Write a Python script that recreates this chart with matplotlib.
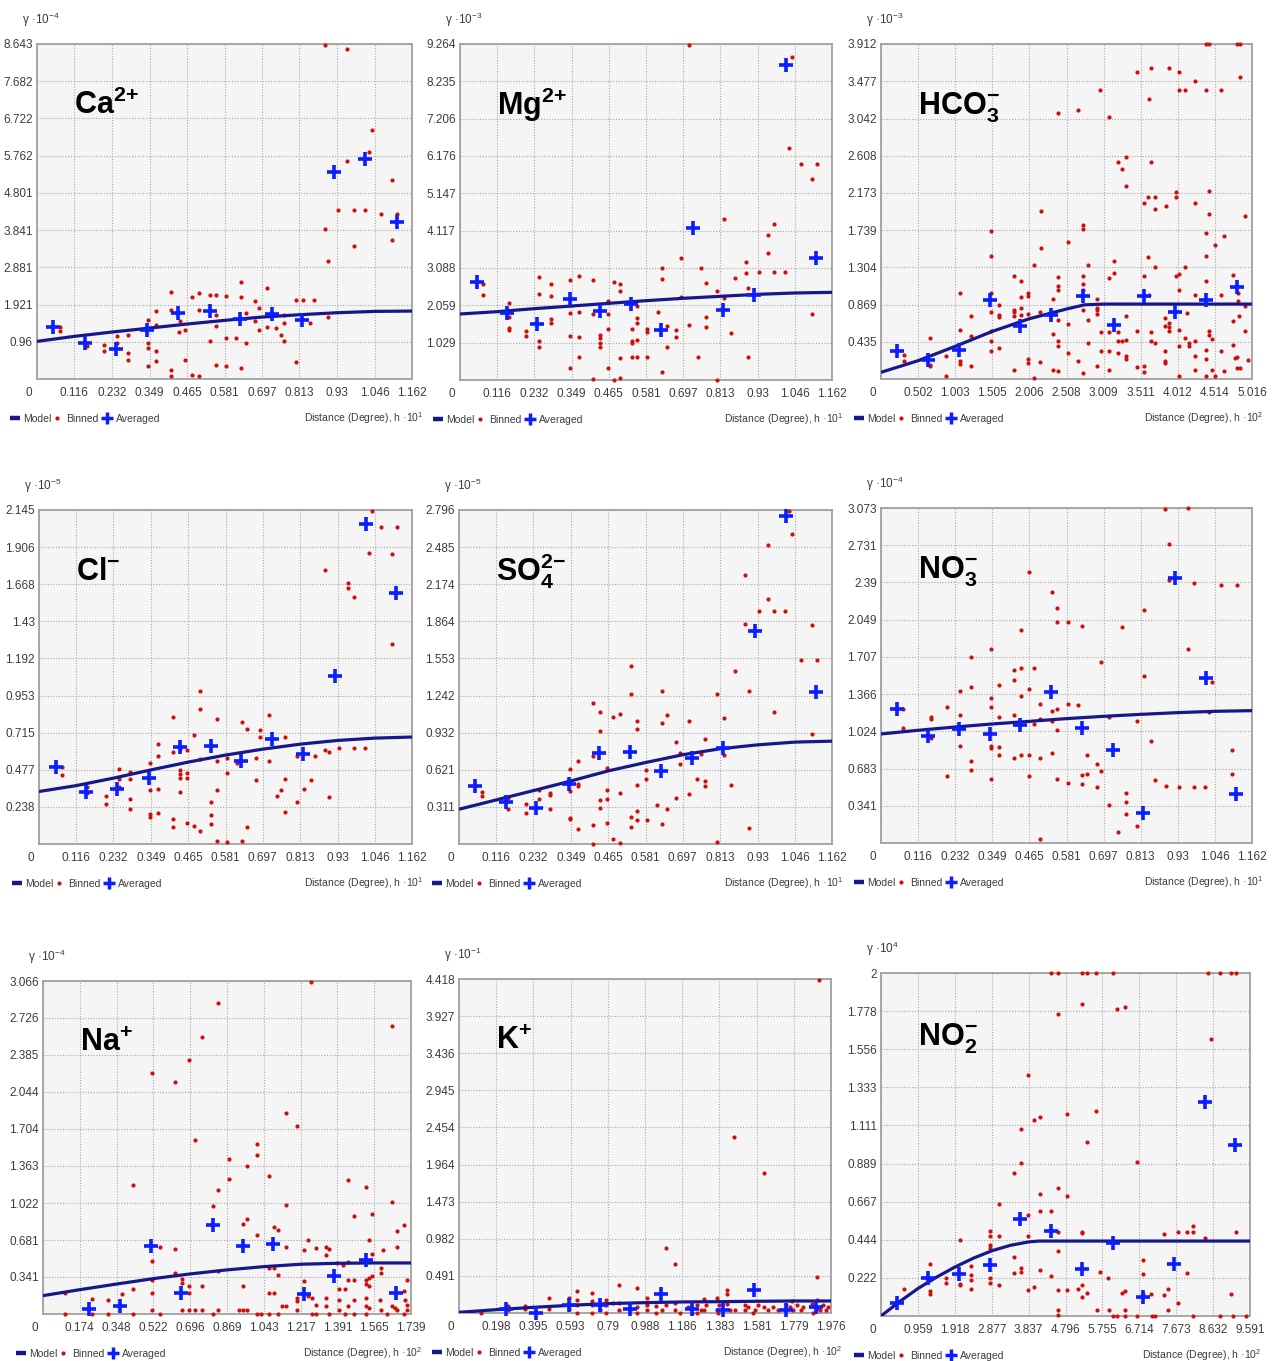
import matplotlib
matplotlib.use("Agg")
import matplotlib.pyplot as plt
from matplotlib import font_manager as fm
from matplotlib.lines import Line2D

W, H = 1276, 1361

installed = {f.name for f in fm.fontManager.ttflist}
NARROW = next((n for n in ["Liberation Sans Narrow", "DejaVu Sans Condensed", "Liberation Sans"]
               if n in installed), "DejaVu Sans")

plt.rcParams["font.family"] = [NARROW, "DejaVu Sans"]
plt.rcParams["mathtext.fontset"] = "custom"
plt.rcParams["mathtext.rm"] = NARROW
plt.rcParams["mathtext.it"] = NARROW + ":italic"
plt.rcParams["mathtext.bf"] = NARROW + ":bold"

NAVY = "#17178c"
RED = "#cc1010"
BLUE = "#0a1eff"
TXT = "#3c3c3c"
GRID = "#a8a8a8"
FACE = "#f5f5f5"
SPINE = "#a0a0a0"

# ---------------------------------------------------------------- tick labels
x_ticks_01 = ["0", "0.116", "0.232", "0.349", "0.465", "0.581", "0.697", "0.813", "0.93", "1.046", "1.162"]
x_ticks_hco3 = ["0", "0.502", "1.003", "1.505", "2.006", "2.508", "3.009", "3.511", "4.012", "4.514", "5.016"]
x_ticks_na = ["0", "0.174", "0.348", "0.522", "0.696", "0.869", "1.043", "1.217", "1.391", "1.565", "1.739"]
x_ticks_k = ["0", "0.198", "0.395", "0.593", "0.79", "0.988", "1.186", "1.383", "1.581", "1.779", "1.976"]
x_ticks_no2 = ["0", "0.959", "1.918", "2.877", "3.837", "4.796", "5.755", "6.714", "7.673", "8.632", "9.591"]

y_ticks_ca = ["0.96", "1.921", "2.881", "3.841", "4.801", "5.762", "6.722", "7.682", "8.643"]
y_ticks_mg = ["1.029", "2.059", "3.088", "4.117", "5.147", "6.176", "7.206", "8.235", "9.264"]
y_ticks_hco3 = ["0.435", "0.869", "1.304", "1.739", "2.173", "2.608", "3.042", "3.477", "3.912"]
y_ticks_cl = ["0.238", "0.477", "0.715", "0.953", "1.192", "1.43", "1.668", "1.906", "2.145"]
y_ticks_so4 = ["0.311", "0.621", "0.932", "1.242", "1.553", "1.864", "2.174", "2.485", "2.796"]
y_ticks_no3 = ["0.341", "0.683", "1.024", "1.366", "1.707", "2.049", "2.39", "2.731", "3.073"]
y_ticks_na = ["0.341", "0.681", "1.022", "1.363", "1.704", "2.044", "2.385", "2.726", "3.066"]
y_ticks_k = ["0.491", "0.982", "1.473", "1.964", "2.454", "2.945", "3.436", "3.927", "4.418"]
y_ticks_no2 = ["0.222", "0.444", "0.667", "0.889", "1.111", "1.333", "1.556", "1.778", "2"]

# ---------------------------------------------------------------- Ca2+
ca_binned = [(0.891, 8.617), (0.962, 8.505), (1.038, 6.426), (1.028, 5.868), (0.962, 5.627), (1.100, 5.137),
             (0.933, 4.364), (0.981, 4.364), (1.017, 4.364), (1.065, 4.253), (1.114, 4.253), (0.891, 3.866),
             (0.981, 3.419), (1.100, 3.591), (0.902, 3.033), (0.902, 1.589), (0.070, 1.332), (0.070, 1.229),
             (0.155, 0.842), (0.207, 0.885), (0.207, 0.713), (0.248, 1.100), (0.248, 0.928), (0.282, 1.143),
             (0.282, 0.670), (0.282, 0.498), (0.344, 1.529), (0.344, 0.928), (0.344, 0.799), (0.344, 0.326),
             (0.370, 1.761), (0.370, 1.400), (0.370, 0.713), (0.370, 0.455), (0.416, 2.242), (0.416, 1.787),
             (0.416, 0.241), (0.416, 0.069), (0.442, 1.486), (0.439, 1.203), (0.460, 1.271), (0.460, 0.481),
             (0.480, 2.105), (0.480, 0.112), (0.501, 2.216), (0.501, 1.787), (0.501, 0.086), (0.537, 2.174),
             (0.537, 0.971), (0.554, 2.174), (0.554, 1.658), (0.554, 1.375), (0.554, 0.352), (0.585, 2.148),
             (0.585, 1.057), (0.585, 0.326), (0.618, 1.057), (0.632, 2.500), (0.632, 2.105), (0.632, 0.284),
             (0.647, 1.701), (0.647, 0.928), (0.677, 2.002), (0.677, 1.486), (0.688, 1.830), (0.688, 1.271),
             (0.714, 2.354), (0.714, 1.332), (0.742, 1.314), (0.755, 1.143), (0.765, 1.658), (0.765, 1.443),
             (0.765, 0.988), (0.804, 2.045), (0.804, 0.430), (0.824, 2.045), (0.847, 1.443), (0.858, 2.045)]
ca_averaged = [(0.050, 1.332), (0.148, 0.928), (0.244, 0.773), (0.342, 1.271), (0.437, 1.701), (0.535, 1.761),
               (0.630, 1.546), (0.728, 1.675), (0.822, 1.512), (0.920, 5.335), (1.017, 5.679), (1.114, 4.038)]
ca_model = [(0, 0.971), (0.116, 1.100), (0.232, 1.211), (0.349, 1.314), (0.465, 1.418), (0.581, 1.512),
            (0.697, 1.598), (0.813, 1.658), (0.93, 1.710), (1.046, 1.744), (1.162, 1.753)]

# ---------------------------------------------------------------- Mg2+
mg_binned = [(0.715, 9.24), (1.038, 8.896), (1.027, 6.405), (1.064, 5.955), (1.115, 5.955), (1.100, 5.542),
             (0.824, 4.439), (0.981, 4.301), (0.962, 3.998), (0.962, 3.511), (0.689, 3.354), (0.893, 3.244),
             (0.754, 3.097), (0.631, 3.097), (0.933, 2.987), (0.981, 2.987), (1.016, 2.987), (0.893, 2.941),
             (0.631, 2.794), (0.247, 2.831), (0.371, 2.867), (0.343, 2.757), (0.416, 2.757), (0.481, 2.711),
             (0.499, 2.647), (0.499, 2.454), (0.283, 2.647), (0.071, 2.647), (0.071, 2.343), (0.247, 2.371),
             (0.283, 2.325), (0.767, 2.683), (0.858, 2.803), (0.900, 2.527), (0.803, 2.454), (0.824, 2.252),
             (0.689, 2.279), (0.154, 2.114), (0.154, 1.728), (0.154, 1.443), (0.154, 1.379), (0.206, 1.360),
             (0.206, 1.213), (0.247, 1.084), (0.247, 0.901), (0.283, 1.673), (0.283, 1.581), (0.343, 1.856),
             (0.343, 1.213), (0.343, 0.322), (0.371, 1.884), (0.371, 1.176), (0.371, 0.643), (0.416, 1.820),
             (0.416, 0.028), (0.437, 1.241), (0.437, 1.149), (0.437, 1.011), (0.437, 0.901), (0.461, 2.178),
             (0.461, 1.820), (0.461, 1.397), (0.461, 0.340), (0.481, 0.0), (0.499, 0.616), (0.499, 0.046),
             (0.536, 1.397), (0.536, 1.084), (0.536, 1.011), (0.536, 0.643), (0.553, 2.040), (0.553, 1.700),
             (0.553, 1.581), (0.553, 1.103), (0.553, 0.643), (0.585, 1.397), (0.585, 1.333), (0.585, 0.643),
             (0.617, 1.884), (0.631, 0.211), (0.647, 1.489), (0.647, 0.919), (0.676, 1.379), (0.676, 1.176),
             (0.715, 1.516), (0.742, 0.643), (0.767, 1.746), (0.767, 1.470), (0.803, 0.0), (0.848, 1.287),
             (0.900, 0.643), (1.100, 1.820)]
mg_averaged = [(0.052, 2.711), (0.148, 1.838), (0.242, 1.544), (0.343, 2.233), (0.437, 1.912), (0.534, 2.095),
               (0.629, 1.379), (0.728, 4.200), (0.822, 1.930), (0.919, 2.343), (1.017, 8.685), (1.113, 3.354)]
mg_model = [(0, 1.820), (0.116, 1.884), (0.232, 1.967), (0.349, 2.040), (0.465, 2.114), (0.581, 2.187),
            (0.697, 2.252), (0.813, 2.307), (0.93, 2.362), (1.046, 2.399), (1.162, 2.417)]

# ---------------------------------------------------------------- HCO3-
hco3_binned = [(4.399, 3.91), (4.439, 3.91), (4.813, 3.91), (4.850, 3.91), (3.461, 3.590), (3.655, 3.636),
               (3.890, 3.636), (4.025, 3.590), (4.241, 3.481), (4.850, 3.523), (4.034, 3.376), (4.106, 3.376),
               (4.394, 3.376), (4.602, 3.376), (2.966, 3.376), (3.619, 3.271), (2.389, 3.111), (2.664, 3.142),
               (3.087, 3.065), (3.313, 2.598), (3.204, 2.532), (3.259, 2.454), (3.655, 2.532), (3.313, 2.248),
               (3.561, 2.061), (3.606, 2.120), (3.709, 2.120), (3.709, 1.987), (3.853, 2.022), (3.989, 2.189),
               (3.989, 2.120), (4.241, 2.061), (4.439, 2.201), (4.439, 1.925), (4.926, 1.898), (2.163, 1.964),
               (2.731, 1.801), (2.731, 1.754), (2.524, 1.594), (1.487, 1.723), (4.633, 1.672), (4.394, 1.703),
               (4.512, 1.559), (2.163, 1.528), (1.487, 1.431), (4.394, 1.431), (3.146, 1.373), (3.709, 1.307),
               (2.794, 1.334), (2.073, 1.334), (3.606, 1.419), (4.106, 1.307), (3.087, 1.178), (3.146, 1.237),
               (3.561, 1.198), (3.989, 1.198), (4.025, 1.229), (4.755, 1.209), (1.794, 1.198), (1.893, 1.147),
               (2.389, 1.186), (2.389, 1.081), (2.389, 1.042), (2.727, 1.198), (2.727, 1.112), (2.727, 1.042),
               (4.394, 1.147), (1.073, 1.003), (1.487, 1.003), (1.983, 1.003), (1.983, 0.964), (1.893, 0.953),
               (2.321, 0.937), (2.921, 0.937), (2.921, 0.828), (4.241, 0.984), (4.602, 0.984), (4.025, 1.042),
               (4.822, 1.003), (4.822, 0.906), (3.619, 0.976), (4.926, 0.848), (4.845, 0.739), (4.755, 0.681),
               (4.926, 0.556), (1.591, 0.867), (1.591, 0.751), (1.591, 0.723), (1.487, 0.782), (1.487, 0.556),
               (1.487, 0.439), (1.487, 0.323), (1.794, 0.809), (1.794, 0.782), (1.794, 0.731), (1.893, 0.828),
               (1.893, 0.751), (1.983, 0.762), (2.154, 0.778), (2.321, 0.525), (2.389, 0.684), (2.389, 0.439),
               (2.389, 0.381), (2.524, 0.646), (2.524, 0.303), (2.727, 0.809), (2.794, 0.692), (2.794, 0.420),
               (2.921, 0.809), (2.921, 0.762), (2.975, 0.544), (2.975, 0.323), (3.087, 0.544), (3.087, 0.323),
               (3.087, 0.109), (3.204, 0.544), (3.204, 0.439), (3.204, 0.303), (3.259, 0.439), (3.313, 0.731),
               (3.313, 0.459), (3.313, 0.264), (3.313, 0.233), (3.461, 0.564), (3.461, 0.140), (3.561, 0.156),
               (3.561, 0.078), (3.655, 0.544), (3.655, 0.439), (3.709, 0.420), (3.844, 0.712), (3.844, 0.622),
               (3.890, 0.653), (3.890, 0.603), (3.890, 0.556), (3.844, 0.323), (3.844, 0.206), (3.844, 0.187),
               (4.025, 0.576), (4.025, 0.381), (4.025, 0.031), (4.106, 0.478), (4.137, 0.770), (4.160, 0.420),
               (4.160, 0.381), (4.241, 0.439), (4.241, 0.272), (4.241, 0.109), (4.394, 0.342), (4.394, 0.233),
               (4.394, 0.039), (4.439, 0.556), (4.439, 0.517), (4.475, 0.467), (4.475, 0.109), (4.512, 0.031),
               (4.633, 0.089), (4.602, 0.323), (4.755, 0.401), (4.791, 0.245), (4.813, 0.257), (4.813, 0.128),
               (4.850, 0.128), (4.958, 0.226), (0.306, 0.284), (0.306, 0.206), (0.667, 0.478), (0.667, 0.167),
               (0.667, 0.148), (0.883, 0.264), (0.883, 0.031), (1.073, 0.576), (1.073, 0.206), (1.073, 0.175),
               (1.217, 0.731), (1.217, 0.498), (1.217, 0.156), (1.591, 0.362), (1.794, 0.109), (1.983, 0.237),
               (1.983, 0.187), (2.073, 0.012), (2.154, 0.194), (2.321, 0.109), (2.389, 0.089), (2.664, 0.214),
               (2.727, 0.070), (2.921, 0.156)]
hco3_averaged = [(0.216, 0.323), (0.631, 0.218), (1.050, 0.342), (1.478, 0.926), (1.884, 0.614), (2.303, 0.751),
                 (2.727, 0.964), (3.146, 0.634), (3.552, 0.964), (3.980, 0.778), (4.399, 0.926), (4.813, 1.069)]
hco3_model = [(0, 0.078), (0.502, 0.214), (1.003, 0.381), (1.505, 0.556), (2.006, 0.704), (2.508, 0.817),
              (2.75, 0.866), (3.009, 0.875), (3.511, 0.875), (4.012, 0.875), (4.514, 0.875), (5.016, 0.875)]

# ---------------------------------------------------------------- Cl-
cl_binned = [(1.037, 2.14), (1.064, 2.038), (1.115, 2.038), (1.027, 1.870), (1.100, 1.864), (0.892, 1.757),
             (0.963, 1.677), (0.963, 1.645), (0.981, 1.585), (1.100, 1.287), (0.501, 0.980), (0.501, 0.867),
             (0.417, 0.815), (0.555, 0.802), (0.715, 0.826), (0.632, 0.781), (0.648, 0.738), (0.690, 0.729),
             (0.690, 0.684), (0.482, 0.701), (0.767, 0.684), (0.371, 0.644), (0.371, 0.562), (0.417, 0.590),
             (0.440, 0.609), (0.461, 0.605), (0.501, 0.545), (0.555, 0.530), (0.586, 0.551), (0.586, 0.459),
             (0.618, 0.519), (0.677, 0.551), (0.715, 0.536), (0.804, 0.562), (0.859, 0.562), (0.892, 0.605),
             (0.902, 0.594), (0.934, 0.616), (0.981, 0.616), (1.017, 0.616), (0.072, 0.493), (0.072, 0.440),
             (0.150, 0.369), (0.150, 0.326), (0.208, 0.311), (0.208, 0.257), (0.248, 0.483), (0.248, 0.418),
             (0.248, 0.363), (0.282, 0.465), (0.282, 0.416), (0.282, 0.287), (0.282, 0.223), (0.345, 0.519),
             (0.345, 0.347), (0.345, 0.191), (0.345, 0.176), (0.371, 0.354), (0.371, 0.197), (0.417, 0.161),
             (0.417, 0.107), (0.440, 0.476), (0.440, 0.448), (0.440, 0.427), (0.440, 0.337), (0.461, 0.455),
             (0.461, 0.427), (0.461, 0.133), (0.482, 0.116), (0.501, 0.084), (0.537, 0.272), (0.537, 0.187),
             (0.537, 0.127), (0.555, 0.347), (0.555, 0.019), (0.586, 0.011), (0.632, 0.019), (0.648, 0.112),
             (0.677, 0.412), (0.742, 0.309), (0.755, 0.347), (0.767, 0.416), (0.767, 0.204), (0.804, 0.272),
             (0.824, 0.354), (0.848, 0.408), (0.902, 0.300)]
cl_averaged = [(0.052, 0.493), (0.147, 0.337), (0.243, 0.354), (0.342, 0.423), (0.438, 0.622), (0.535, 0.631),
               (0.630, 0.536), (0.727, 0.674), (0.822, 0.577), (0.921, 1.077), (1.018, 2.053), (1.113, 1.609)]
cl_model = [(0, 0.337), (0.116, 0.375), (0.232, 0.423), (0.349, 0.476), (0.465, 0.526), (0.581, 0.571),
            (0.697, 0.609), (0.813, 0.641), (0.93, 0.665), (1.046, 0.680), (1.162, 0.687)]

# ---------------------------------------------------------------- SO4 2-
so4_binned = [(1.027, 2.79), (1.037, 2.592), (0.963, 2.500), (0.892, 2.248), (0.963, 2.055), (0.934, 1.954),
              (0.981, 1.954), (1.017, 1.954), (0.892, 1.845), (1.100, 1.837), (1.064, 1.543), (1.115, 1.543),
              (0.537, 1.487), (0.859, 1.451), (0.902, 1.283), (0.804, 1.258), (0.537, 1.258), (0.632, 1.278),
              (0.417, 1.180), (0.438, 1.102), (0.480, 1.062), (0.501, 1.088), (0.981, 1.102), (0.648, 1.076),
              (1.100, 0.920), (0.632, 1.012), (0.715, 1.032), (0.826, 1.054), (0.438, 0.942), (0.767, 0.881),
              (0.555, 1.032), (0.555, 0.962), (0.677, 0.850), (0.417, 0.738), (0.371, 0.696), (0.345, 0.629),
              (0.690, 0.761), (0.690, 0.668), (0.755, 0.752), (0.824, 0.747), (0.584, 0.621), (0.584, 0.542),
              (0.461, 0.635), (0.371, 0.500), (0.371, 0.487), (0.461, 0.453), (0.461, 0.375), (0.501, 0.425),
              (0.555, 0.495), (0.438, 0.369), (0.438, 0.305), (0.345, 0.445), (0.345, 0.221), (0.345, 0.207),
              (0.371, 0.123), (0.248, 0.453), (0.248, 0.375), (0.282, 0.431), (0.282, 0.411), (0.282, 0.291),
              (0.208, 0.333), (0.208, 0.263), (0.154, 0.389), (0.154, 0.291), (0.072, 0.439), (0.072, 0.403),
              (0.417, 0.159), (0.417, 0.0), (0.461, 0.179), (0.480, 0.039), (0.501, 0.011), (0.537, 0.224),
              (0.537, 0.145), (0.555, 0.280), (0.555, 0.201), (0.586, 0.201), (0.618, 0.327), (0.632, 0.165),
              (0.648, 0.291), (0.677, 0.383), (0.715, 0.417), (0.742, 0.542), (0.767, 0.528), (0.767, 0.487),
              (0.848, 0.495), (0.804, 0.020), (0.902, 0.131)]
so4_averaged = [(0.049, 0.489), (0.145, 0.350), (0.241, 0.305), (0.342, 0.500), (0.436, 0.761), (0.534, 0.769),
                (0.630, 0.612), (0.727, 0.719), (0.822, 0.802), (0.921, 1.781), (1.018, 2.746), (1.113, 1.269)]
so4_model = [(0, 0.291), (0.116, 0.369), (0.232, 0.447), (0.349, 0.528), (0.465, 0.612), (0.581, 0.682),
             (0.697, 0.747), (0.813, 0.797), (0.93, 0.830), (1.046, 0.853), (1.162, 0.861)]

# ---------------------------------------------------------------- NO3-
no3_binned = [(0.891, 3.064), (0.962, 3.073), (0.902, 2.743), (0.902, 2.416), (0.981, 2.385), (1.064, 2.370),
              (1.115, 2.370), (0.462, 2.483), (0.537, 2.303), (0.552, 2.156), (0.552, 2.027), (0.585, 2.027),
              (0.823, 2.141), (0.631, 1.994), (0.754, 1.982), (0.438, 1.957), (0.962, 1.780), (0.688, 1.657),
              (0.281, 1.703), (0.344, 1.783), (0.415, 1.590), (0.438, 1.605), (0.479, 1.605), (0.415, 1.492),
              (0.823, 1.529), (1.038, 1.477), (0.248, 1.391), (0.281, 1.431), (0.370, 1.453), (0.344, 1.330),
              (0.438, 1.346), (0.462, 1.416), (0.498, 1.278), (0.585, 1.278), (0.616, 1.269), (0.537, 1.214),
              (0.552, 1.229), (0.206, 1.245), (0.068, 1.229), (0.156, 1.156), (0.156, 1.141), (0.248, 1.171),
              (0.344, 1.245), (0.370, 1.156), (0.415, 1.171), (0.498, 1.141), (0.480, 1.092), (0.537, 1.122),
              (0.714, 1.153), (1.027, 1.202), (0.802, 1.116), (0.552, 1.040), (0.068, 1.055), (0.156, 0.963),
              (0.248, 0.887), (0.344, 0.887), (0.344, 0.872), (0.370, 0.878), (0.370, 0.804), (0.415, 0.780),
              (0.438, 0.804), (0.462, 0.804), (0.498, 0.780), (0.537, 0.826), (0.646, 0.804), (0.845, 0.939),
              (1.100, 0.850), (0.281, 0.749), (0.281, 0.667), (0.206, 0.612), (0.344, 0.590), (0.462, 0.612),
              (0.552, 0.590), (0.585, 0.550), (0.631, 0.627), (0.646, 0.636), (0.631, 0.541), (0.675, 0.728),
              (0.688, 0.657), (0.675, 0.514), (0.858, 0.581), (0.892, 0.526), (0.933, 0.514), (0.981, 0.514),
              (1.016, 0.514), (1.100, 0.636), (0.714, 0.352), (0.741, 0.101), (0.766, 0.459), (0.766, 0.376),
              (0.766, 0.266), (0.802, 0.153), (0.498, 0.040)]
no3_averaged = [(0.050, 1.229), (0.146, 0.979), (0.243, 1.046), (0.342, 1.003), (0.436, 1.086), (0.533, 1.382),
                (0.631, 1.055), (0.727, 0.850), (0.821, 0.275), (0.920, 2.431), (1.017, 1.514), (1.113, 0.453)]
no3_model = [(0, 1.000), (0.116, 1.034), (0.232, 1.064), (0.349, 1.092), (0.465, 1.116), (0.581, 1.141),
             (0.697, 1.162), (0.813, 1.180), (0.93, 1.196), (1.046, 1.208), (1.162, 1.214)]

# ---------------------------------------------------------------- Na+
na_binned = [(1.267, 3.06), (0.829, 2.866), (1.648, 2.651), (0.749, 2.553), (0.515, 2.215), (0.691, 2.338),
             (0.625, 2.138), (1.147, 1.852), (1.202, 1.730), (0.719, 1.601), (1.010, 1.567), (1.010, 1.462),
             (0.877, 1.429), (0.966, 1.367), (0.877, 1.244), (1.070, 1.269), (1.440, 1.232), (1.525, 1.167),
             (0.423, 1.192), (0.829, 1.146), (1.147, 1.008), (1.648, 1.029), (0.803, 0.992), (1.470, 0.906),
             (1.553, 0.922), (0.966, 0.879), (0.947, 0.829), (1.708, 0.817), (1.010, 0.731), (1.092, 0.799),
             (1.110, 0.777), (1.671, 0.768), (0.515, 0.492), (0.554, 0.617), (0.625, 0.602), (1.147, 0.617),
             (1.254, 0.679), (1.289, 0.608), (1.235, 0.593), (1.336, 0.617), (1.352, 0.602), (1.541, 0.679),
             (1.605, 0.593), (1.671, 0.617), (1.556, 0.556), (1.336, 0.547), (1.388, 0.470), (1.443, 0.479),
             (1.420, 0.455), (1.471, 0.316), (1.525, 0.316), (1.541, 0.332), (1.556, 0.347), (1.525, 0.280),
             (1.541, 0.255), (1.597, 0.424), (1.597, 0.378), (1.070, 0.424), (1.092, 0.424), (1.110, 0.356),
             (0.829, 0.393), (0.625, 0.378), (0.515, 0.316), (0.515, 0.194), (0.656, 0.323), (0.656, 0.286),
             (0.691, 0.255), (0.691, 0.194), (0.749, 0.255), (0.947, 0.255), (0.423, 0.230), (0.373, 0.187),
             (0.105, 0.194), (0.231, 0.138), (0.308, 0.132), (1.070, 0.194), (1.092, 0.194), (1.235, 0.301),
             (1.202, 0.147), (1.202, 0.117), (1.254, 0.163), (1.270, 0.147), (1.289, 0.086), (1.336, 0.147),
             (1.399, 0.233), (1.399, 0.126), (1.427, 0.233), (1.443, 0.316), (1.470, 0.132), (1.525, 0.147),
             (1.525, 0.071), (1.541, 0.055), (1.593, 0.132), (1.651, 0.071), (1.664, 0.055), (1.671, 0.040),
             (1.708, 0.209), (1.711, 0.132), (1.719, 0.316), (1.719, 0.086), (0.105, 0.0), (0.231, 0.0),
             (0.308, 0.0), (0.423, 0.0), (0.515, 0.040), (0.554, 0.0), (0.656, 0.040), (0.691, 0.040),
             (0.719, 0.040), (0.749, 0.040), (0.803, 0.0), (0.829, 0.040), (0.924, 0.040), (0.947, 0.040),
             (0.966, 0.040), (1.010, 0.0), (1.029, 0.0), (1.070, 0.0), (1.110, 0.0), (1.128, 0.071),
             (1.147, 0.071), (1.202, 0.040), (1.270, 0.0), (1.289, 0.0), (1.336, 0.071), (1.352, 0.0),
             (1.399, 0.040), (1.427, 0.0), (1.443, 0.071), (1.470, 0.0), (1.525, 0.0), (1.597, 0.040),
             (1.624, 0.0), (1.708, 0.0), (1.722, 0.040)]
na_averaged = [(0.216, 0.046), (0.362, 0.077), (0.511, 0.630), (0.653, 0.194), (0.801, 0.817), (0.944, 0.630),
               (1.089, 0.645), (1.234, 0.184), (1.377, 0.353), (1.527, 0.501), (1.668, 0.194)]
na_model = [(0, 0.169), (0.174, 0.224), (0.348, 0.276), (0.522, 0.326), (0.696, 0.369), (0.869, 0.406),
            (1.043, 0.436), (1.217, 0.458), (1.391, 0.467), (1.565, 0.470), (1.739, 0.470)]

# ---------------------------------------------------------------- K+
k_binned = [(1.912, 4.41), (1.462, 2.333), (1.622, 1.847), (1.099, 0.862), (1.150, 0.645), (1.900, 0.477),
            (0.851, 0.376), (0.943, 0.336), (1.425, 0.309), (0.629, 0.287), (0.707, 0.265), (1.425, 0.256),
            (0.478, 0.199), (0.629, 0.177), (0.707, 0.155), (0.783, 0.177), (0.819, 0.133), (0.996, 0.199),
            (1.303, 0.190), (1.368, 0.199), (1.900, 0.177), (1.770, 0.155), (0.115, 0.004), (0.261, 0.093),
            (0.261, 0.035), (0.349, 0.093), (0.349, 0.049), (0.411, 0.0), (0.478, 0.049), (0.585, 0.199),
            (0.585, 0.102), (0.585, 0.049), (0.629, 0.102), (0.629, 0.004), (0.707, 0.102), (0.707, 0.004),
            (0.748, 0.102), (0.748, 0.035), (0.783, 0.102), (0.783, 0.0), (0.851, 0.133), (0.851, 0.035),
            (0.907, 0.035), (0.943, 0.080), (0.943, 0.0), (0.996, 0.102), (0.996, 0.035), (1.049, 0.088),
            (1.049, 0.0), (1.076, 0.035), (1.099, 0.102), (1.150, 0.133), (1.150, 0.035), (1.173, 0.0),
            (1.214, 0.080), (1.235, 0.0), (1.262, 0.102), (1.285, 0.035), (1.303, 0.035), (1.311, 0.102),
            (1.368, 0.035), (1.382, 0.102), (1.425, 0.124), (1.439, 0.035), (1.466, 0.035), (1.519, 0.102),
            (1.519, 0.035), (1.536, 0.080), (1.572, 0.035), (1.590, 0.102), (1.622, 0.080), (1.643, 0.035),
            (1.669, 0.080), (1.696, 0.035), (1.737, 0.102), (1.758, 0.080), (1.776, 0.035), (1.793, 0.102),
            (1.816, 0.035), (1.829, 0.080), (1.873, 0.124), (1.900, 0.057), (1.917, 0.035), (1.935, 0.102),
            (1.949, 0.035), (1.962, 0.080), (1.882, 0.0), (1.563, 0.0), (1.377, 0.0), (1.262, 0.0)]
k_averaged = [(0.248, 0.057), (0.411, 0.004), (0.583, 0.102), (0.748, 0.102), (0.907, 0.057), (1.072, 0.256),
              (1.239, 0.049), (1.404, 0.035), (1.568, 0.300), (1.735, 0.035), (1.896, 0.080)]
k_model = [(0, 0.009), (0.198, 0.044), (0.395, 0.075), (0.593, 0.102), (0.79, 0.124), (0.988, 0.137),
           (1.186, 0.146), (1.383, 0.150), (1.581, 0.155), (1.779, 0.159), (1.976, 0.159)]

# ---------------------------------------------------------------- NO2-
no2_binned = [(4.423, 2.0), (4.588, 2.0), (5.237, 2.0), (5.367, 2.0), (5.592, 2.0), (6.042, 2.0), (8.509, 2.0),
              (8.812, 2.0), (9.089, 2.0), (9.227, 2.0), (5.237, 1.819), (4.588, 1.760), (6.128, 1.789),
              (6.345, 1.799), (8.578, 1.614), (3.817, 1.405), (5.592, 1.198), (4.847, 1.179), (3.982, 1.141),
              (4.138, 1.159), (3.636, 1.093), (5.367, 1.013), (3.636, 0.892), (6.648, 0.898), (3.445, 0.833),
              (4.588, 0.745), (4.138, 0.712), (4.847, 0.702), (3.073, 0.654), (3.817, 0.589), (4.138, 0.615),
              (4.423, 0.615), (2.839, 0.498), (2.839, 0.468), (2.839, 0.414), (2.839, 0.394), (3.073, 0.468),
              (3.817, 0.468), (4.423, 0.498), (4.588, 0.492), (5.237, 0.492), (5.237, 0.482), (9.227, 0.492),
              (7.366, 0.478), (7.712, 0.492), (7.946, 0.492), (8.119, 0.525), (8.119, 0.492), (8.422, 0.453),
              (2.060, 0.443), (3.445, 0.345), (3.636, 0.277), (3.636, 0.258), (3.982, 0.170), (4.138, 0.267),
              (3.445, 0.248), (2.839, 0.219), (2.839, 0.195), (2.337, 0.291), (2.337, 0.238), (2.337, 0.209),
              (2.337, 0.160), (1.697, 0.222), (1.697, 0.193), (2.060, 0.189), (2.060, 0.180), (1.281, 0.306),
              (1.281, 0.146), (1.281, 0.131), (0.589, 0.160), (3.073, 0.180), (3.817, 0.150), (4.423, 0.234),
              (4.588, 0.379), (4.588, 0.150), (4.588, 0.033), (4.588, 0.004), (4.847, 0.150), (5.116, 0.160),
              (5.237, 0.180), (5.237, 0.111), (5.367, 0.135), (5.696, 0.258), (5.912, 0.224), (5.929, 0.033),
              (5.609, 0.033), (6.258, 0.135), (6.345, 0.146), (6.648, 0.0), (6.821, 0.326), (6.821, 0.242),
              (6.821, 0.131), (7.020, 0.127), (7.037, 0.0), (7.124, 0.0), (7.366, 0.121), (7.470, 0.160),
              (7.470, 0.033), (7.712, 0.078), (7.946, 0.252), (8.119, 0.0), (9.089, 0.131), (8.812, 0.0),
              (9.158, 0.0), (9.487, 0.0), (6.042, 0.0), (6.128, 0.0), (6.345, 0.0), (6.345, 0.033)]
no2_averaged = [(0.424, 0.076), (1.220, 0.219), (2.017, 0.242), (2.839, 0.300), (3.618, 0.564), (4.423, 0.496),
                (5.220, 0.273), (6.025, 0.427), (6.804, 0.111), (7.626, 0.306), (8.422, 1.249), (9.201, 0.995)]
no2_model = [(0, 0.0), (0.48, 0.083), (0.959, 0.160), (1.44, 0.226), (1.918, 0.285), (2.4, 0.337),
             (2.877, 0.380), (3.36, 0.412), (3.837, 0.432), (4.1, 0.437), (4.796, 0.437), (9.591, 0.437)]

# ---------------------------------------------------------------- panel layout (pixels: left, top, right, bottom)
panels = [
    dict(box=(37, 44, 412, 379), ion=r"$\mathbf{Ca^{{2}{+}}}$", yexp="-4", xexp="1",
         xt=x_ticks_01, yt=y_ticks_ca, binned=ca_binned, avg=ca_averaged, model=ca_model),
    dict(box=(460, 44, 832, 380), ion=r"$\mathbf{Mg^{{2}{+}}}$", yexp="-3", xexp="1",
         xt=x_ticks_01, yt=y_ticks_mg, binned=mg_binned, avg=mg_averaged, model=mg_model),
    dict(box=(881, 44, 1252, 379), ion=r"$\mathbf{HCO_3^{{-}}}$", yexp="-3", xexp="2",
         xt=x_ticks_hco3, yt=y_ticks_hco3, binned=hco3_binned, avg=hco3_averaged, model=hco3_model),
    dict(box=(39, 510, 412, 844), ion=r"$\mathbf{Cl^{{-}}}$", yexp="-5", xexp="1",
         xt=x_ticks_01, yt=y_ticks_cl, binned=cl_binned, avg=cl_averaged, model=cl_model),
    dict(box=(459, 510, 832, 844), ion=r"$\mathbf{SO_4^{{2}{-}}}$", yexp="-5", xexp="1",
         xt=x_ticks_01, yt=y_ticks_so4, binned=so4_binned, avg=so4_averaged, model=so4_model),
    dict(box=(881, 508, 1252, 843), ion=r"$\mathbf{NO_3^{{-}}}$", yexp="-4", xexp="1",
         xt=x_ticks_01, yt=y_ticks_no3, binned=no3_binned, avg=no3_averaged, model=no3_model),
    dict(box=(43, 981, 411, 1314), ion=r"$\mathbf{Na^{{+}}}$", yexp="-4", xexp="2",
         xt=x_ticks_na, yt=y_ticks_na, binned=na_binned, avg=na_averaged, model=na_model),
    dict(box=(459, 979, 831, 1313), ion=r"$\mathbf{K^{{+}}}$", yexp="-1", xexp="2",
         xt=x_ticks_k, yt=y_ticks_k, binned=k_binned, avg=k_averaged, model=k_model),
    dict(box=(881, 973, 1250, 1316), ion=r"$\mathbf{NO_2^{{-}}}$", yexp="4", xexp="2",
         xt=x_ticks_no2, yt=y_ticks_no2, binned=no2_binned, avg=no2_averaged, model=no2_model),
]


def fx(x):
    return x / W


def fy(y):
    return 1 - y / H


fig = plt.figure(figsize=(W / 100, H / 100), dpi=100)
fig.patch.set_facecolor("white")

for p in panels:
    l, t, r, b = p["box"]
    ax = fig.add_axes([fx(l), fy(b), (r - l) / W, (b - t) / H])
    ax.set_facecolor(FACE)

    xt = [float(s) for s in p["xt"]]
    yt = [float(s) for s in p["yt"]]
    ax.set_xlim(0, xt[-1])
    ax.set_ylim(0, yt[-1])
    ax.set_xticks(xt)
    ax.set_xticklabels([""] + p["xt"][1:])
    ax.set_yticks(yt)
    ax.set_yticklabels(p["yt"])
    ax.tick_params(axis="both", length=0, labelsize=8.5, labelcolor=TXT)
    ax.tick_params(axis="x", pad=5.5)
    ax.tick_params(axis="y", pad=3)
    ax.grid(True, color=GRID, linestyle=(0, (1, 1.5)), linewidth=0.8)
    ax.set_axisbelow(True)
    for s in ax.spines.values():
        s.set_color(SPINE)
        s.set_linewidth(1.3)

    bh, bg = zip(*p["binned"])
    ax.plot(bh, bg, linestyle="none", marker="o", ms=3.0, color=RED, mec="none",
            clip_on=False, zorder=3)
    mh, mg = zip(*p["model"])
    ax.plot(mh, mg, "-", color=NAVY, lw=2.3, zorder=4, solid_capstyle="butt")
    ah, ag = zip(*p["avg"])
    ax.plot(ah, ag, linestyle="none", marker="+", ms=10, mew=2.6, color=BLUE,
            clip_on=False, zorder=5)

    ax.text(0.10, 0.79, p["ion"], transform=ax.transAxes, fontsize=22,
            ha="left", va="baseline", color="black", zorder=6)

    # origin label sits left of the corner
    fig.text(fx(l - 8), fy(b + 14), p["xt"][0], ha="center", va="center",
             fontsize=8.5, color=TXT)
    # semivariance scale label
    fig.text(fx(l - 15), fy(t - 20), "γ ·$10^{%s}$" % p["yexp"], ha="left",
             va="baseline", fontsize=8.5, color=TXT)
    # distance label
    fig.text(fx(r + 11), fy(b + 43), "Distance (Degree), h ·$10^{%s}$" % p["xexp"],
             ha="right", va="baseline", fontsize=7.5, color=TXT)

    # key row under the plot
    yc = b + 39
    fig.add_artist(Line2D([fx(l - 27), fx(l - 17)], [fy(yc), fy(yc)], transform=fig.transFigure,
                          color=NAVY, lw=3.2, solid_capstyle="butt"))
    fig.text(fx(l - 14), fy(yc + 4), "Model", ha="left", va="baseline", fontsize=7.5, color=TXT)
    fig.add_artist(Line2D([fx(l + 20)], [fy(yc)], transform=fig.transFigure, linestyle="none",
                          marker="o", ms=3, color=RED, mec="none"))
    fig.text(fx(l + 29), fy(yc + 4), "Binned", ha="left", va="baseline", fontsize=7.5, color=TXT)
    fig.add_artist(Line2D([fx(l + 70)], [fy(yc)], transform=fig.transFigure, linestyle="none",
                          marker="+", ms=9, mew=2.5, color=BLUE))
    fig.text(fx(l + 79), fy(yc + 4), "Averaged", ha="left", va="baseline", fontsize=7.5, color=TXT)

fig.savefig("out.png", dpi=100, facecolor="white")
